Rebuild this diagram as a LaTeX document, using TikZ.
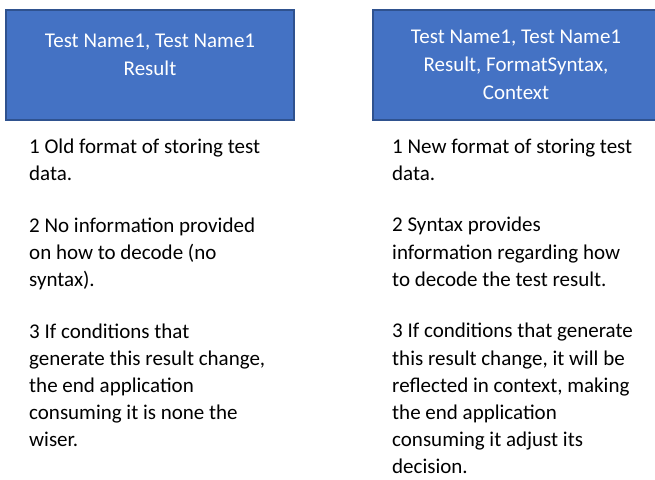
\documentclass[tikz,border=0pt]{standalone}
\usepackage{fontspec}
\setmainfont{Carlito}
\definecolor{boxfill}{HTML}{4472C4}
\definecolor{boxline}{HTML}{2F528F}
\begin{document}
\begin{tikzpicture}[x=1pt,y=-1pt,
  bluebox/.style={fill=boxfill,draw=boxline,line width=2pt},
  boxtext/.style={text=white,align=center,inner sep=0pt,anchor=base,font=\fontsize{21}{28}\selectfont},
  bodytext/.style={text=black,align=left,inner sep=0pt,anchor=base west,font=\fontsize{21}{27.1}\selectfont}]
\useasboundingbox (0,0) rectangle (655,479);
\path[bluebox] (6,10) rectangle (294,120);
\path[bluebox] (373,10) rectangle (662,120);
\node[boxtext] (lt) at (150,75) {Test Name1, Test Name1\\Result};
\node[boxtext] (rt) at (516,99) {Test Name1, Test Name1\\Result, FormatSyntax,\\Context};
\node[bodytext] (lb) at (29,446.5) {1 Old format of storing test\\data.\\[24.7pt]2 No information provided\\on how to decode (no\\syntax).\\[24.7pt]3 If conditions that\\generate this result change,\\the end application\\consuming it is none the\\wiser.};
\node[bodytext] (rb) at (392,473.4) {1 New format of storing test\\data.\\[24.7pt]2 Syntax provides\\information regarding how\\to decode the test result.\\[24.7pt]3 If conditions that generate\\this result change, it will be\\reflected in context, making\\the end application\\consuming it adjust its\\decision.};
\end{tikzpicture}
\end{document}
